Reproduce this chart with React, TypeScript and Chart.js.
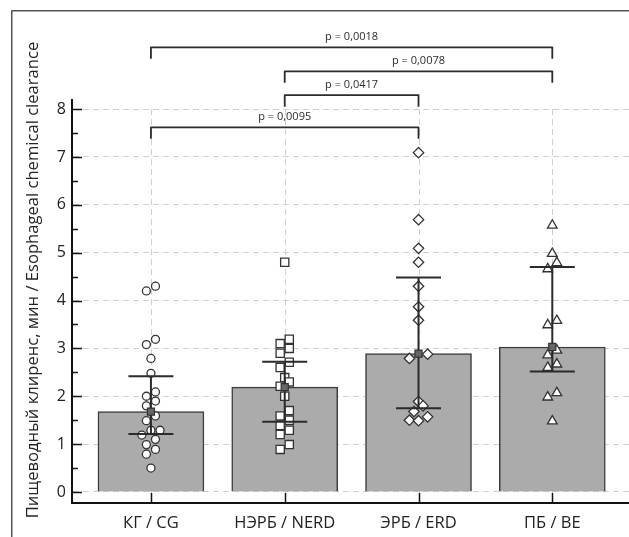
import React, { useEffect, useRef } from 'react';
import { Chart, registerables } from 'chart.js';

Chart.register(...registerables);

// ---------- data ----------
const categories = ['КГ / CG', 'НЭРБ / NERD', 'ЭРБ / ERD', 'ПБ / BE'];
const meanValues = [1.68, 2.19, 2.89, 3.03];
const upperValues = [2.42, 2.72, 4.48, 4.7];
const lowerValues = [1.21, 1.47, 1.75, 2.52];
const yTickValues = [0, 1, 2, 3, 4, 5, 6, 7, 8];
const yAxisTitle = 'Пищеводный клиренс, мин / Esophageal chemical clearance';

const cgPoints = [4.2, 4.3, 3.08, 3.19, 2.79, 2.48, 2.0, 2.09, 1.9, 1.8, 1.59, 1.49, 1.29, 1.29, 1.19, 1.1, 0.99, 0.89, 0.79, 0.5];
const cgSlots = [-1, 1, -1, 1, 0, 0, -1, 1, 1, -1, 1, -1, 0, 2, -2, 1, -1, 1, -1, 0];
const nerdPoints = [4.8, 3.19, 3.1, 3.0, 2.9, 2.71, 2.6, 2.39, 2.3, 2.21, 2.0, 1.7, 1.59, 1.5, 1.39, 1.29, 1.2, 0.99, 0.89];
const nerdSlots = [0, 1, -1, 1, -1, 1, -1, 0, 1, -1, 0, 1, -1, 1, -1, 1, -1, 1, -1];
const erdPoints = [7.09, 5.69, 5.09, 4.8, 4.3, 3.87, 3.59, 2.79, 2.88, 1.89, 1.8, 1.68, 1.5, 1.49, 1.57];
const erdSlots = [0, 0, 0, 0, 0, 0, 0, -2, 2, 0, 1, -1, -2, 0, 2];
const bePoints = [5.57, 4.98, 4.79, 4.66, 3.49, 3.58, 2.96, 2.86, 2.67, 2.6, 1.98, 2.07, 1.48];
const beSlots = [0, 0, 1, -1, -1, 1, 1, -1, 1, -1, -1, 1, 0];

const comparisonFrom = [1, 2, 2, 1];
const comparisonTo = [3, 3, 4, 4];
const comparisonLabels = ['p = 0,0095', 'p = 0,0417', 'p = 0,0078', 'p = 0,0018'];

// ---------- layout / style constants ----------
const JITTER = 0.034;
const BRACKET_LEVELS = [7.62, 8.29, 8.79, 9.29];
const BRACKET_DROP = 0.24;
const FONT = '"Open Sans", "DejaVu Sans", sans-serif';
const INK = '#2b2b2b';
const CANVAS_W = 637;

const groups = [
  { pts: cgPoints, slots: cgSlots, style: 'circle', radius: 4 },
  { pts: nerdPoints, slots: nerdSlots, style: 'rect', radius: 5.8 },
  { pts: erdPoints, slots: erdSlots, style: 'rectRot', radius: 5.2 },
  { pts: bePoints, slots: beSlots, style: 'triangle', radius: 5.6 },
];

const overlayPlugin = {
  id: 'overlay',
  beforeDatasetsDraw(chart: any) {
    const { ctx, chartArea } = chart;
    const x = chart.scales.x;
    const y = chart.scales.y;
    ctx.save();
    ctx.strokeStyle = '#cfcfcf';
    ctx.lineWidth = 1;
    ctx.setLineDash([6, 4]);
    categories.forEach((_, i) => {
      const px = Math.round(x.getPixelForValue(i + 1)) + 0.5;
      ctx.beginPath();
      ctx.moveTo(px, y.getPixelForValue(8));
      ctx.lineTo(px, chartArea.bottom);
      ctx.stroke();
    });
    ctx.restore();
  },
  beforeDatasetDraw(chart: any, args: any) {
    if (args.index !== chart.data.datasets.length - 1) return;
    const { ctx } = chart;
    const x = chart.scales.x;
    const y = chart.scales.y;
    ctx.save();
    ctx.strokeStyle = INK;
    ctx.lineWidth = 2;
    categories.forEach((_, i) => {
      const px = x.getPixelForValue(i + 1);
      const yu = y.getPixelForValue(upperValues[i]);
      const yl = y.getPixelForValue(lowerValues[i]);
      ctx.beginPath();
      ctx.moveTo(px, yu);
      ctx.lineTo(px, yl);
      ctx.moveTo(px - 22.5, yu);
      ctx.lineTo(px + 22.5, yu);
      ctx.moveTo(px - 22.5, yl);
      ctx.lineTo(px + 22.5, yl);
      ctx.stroke();
    });
    ctx.restore();
  },
  afterDraw(chart: any) {
    const { ctx, chartArea } = chart;
    const x = chart.scales.x;
    const y = chart.scales.y;
    ctx.save();
    // inward ticks
    ctx.strokeStyle = '#111';
    ctx.lineWidth = 1.5;
    for (let v = 0; v <= 8; v += 0.5) {
      const py = Math.round(y.getPixelForValue(v)) + 0.5;
      const len = Number.isInteger(v) ? 10 : 6;
      ctx.beginPath();
      ctx.moveTo(chartArea.left, py);
      ctx.lineTo(chartArea.left + len, py);
      ctx.stroke();
    }
    categories.forEach((_, i) => {
      const px = Math.round(x.getPixelForValue(i + 1)) + 0.5;
      ctx.beginPath();
      ctx.moveTo(px, chartArea.bottom);
      ctx.lineTo(px, chartArea.bottom - 10);
      ctx.stroke();
    });
    // brackets
    ctx.strokeStyle = INK;
    ctx.lineWidth = 1.8;
    ctx.lineJoin = 'round';
    ctx.fillStyle = INK;
    ctx.font = '11px ' + FONT;
    ctx.textAlign = 'center';
    ctx.textBaseline = 'middle';
    comparisonLabels.forEach((lab, i) => {
      const xa = x.getPixelForValue(comparisonFrom[i]);
      const xb = x.getPixelForValue(comparisonTo[i]);
      const yTop = y.getPixelForValue(BRACKET_LEVELS[i]);
      const yEnd = y.getPixelForValue(BRACKET_LEVELS[i] - BRACKET_DROP);
      ctx.beginPath();
      ctx.moveTo(xa, yEnd);
      ctx.lineTo(xa, yTop);
      ctx.lineTo(xb, yTop);
      ctx.lineTo(xb, yEnd);
      ctx.stroke();
      ctx.fillText(lab, (xa + xb) / 2, yTop - 10);
    });
    // y-axis title
    ctx.save();
    ctx.translate(33, 280);
    ctx.rotate(-Math.PI / 2);
    ctx.font = '16.6px ' + FONT;
    ctx.fillStyle = '#222';
    ctx.textAlign = 'center';
    ctx.textBaseline = 'middle';
    ctx.fillText(yAxisTitle, 0, 0);
    ctx.restore();
    // frame
    ctx.strokeStyle = '#555';
    ctx.lineWidth = 1.5;
    ctx.beginPath();
    ctx.moveTo(11.75, 537);
    ctx.lineTo(11.75, 10.75);
    ctx.lineTo(CANVAS_W, 10.75);
    ctx.stroke();
    ctx.restore();
  },
};

export default function App() {
  const ref = useRef<HTMLCanvasElement>(null);
  useEffect(() => {
    const canvas = ref.current!;
    const datasets: any[] = [
      {
        type: 'bar',
        data: meanValues.map((v, i) => ({ x: i + 1, y: v })),
        backgroundColor: '#ababab',
        borderColor: '#3c3c3c',
        borderWidth: 1.5,
        barThickness: 106,
        order: 10,
      },
      ...groups.map((g, gi) => ({
        type: 'scatter',
        data: g.pts.map((v, i) => ({ x: gi + 1 + g.slots[i] * JITTER, y: v })),
        pointStyle: g.style,
        pointRadius: g.radius,
        pointBackgroundColor: '#ffffff',
        pointBorderColor: '#333333',
        pointBorderWidth: 1.3,
        showLine: false,
        order: 5,
      })),
      {
        type: 'scatter',
        data: meanValues.map((v, i) => ({ x: i + 1, y: v })),
        pointStyle: 'rect',
        pointRadius: 5,
        pointBackgroundColor: '#666666',
        pointBorderColor: '#333333',
        pointBorderWidth: 1.2,
        showLine: false,
        order: 0,
      },
    ];
    const chart = new Chart(canvas, {
      type: 'scatter',
      data: { datasets },
      plugins: [overlayPlugin],
      options: {
        responsive: false,
        animation: false,
        devicePixelRatio: 1,
        layout: { padding: { top: 100, left: 0, right: 0, bottom: 0 } },
        plugins: { legend: { display: false }, tooltip: { enabled: false } },
        scales: {
          x: {
            type: 'linear',
            min: 0.41,
            max: 4.58,
            offset: false,
            afterFit: (s: any) => {
              s.height = 34;
              s.paddingLeft = 0;
              s.paddingRight = 0;
            },
            afterBuildTicks: (s: any) => { s.ticks = categories.map((_, i) => ({ value: i + 1 })); },
            grid: { display: false, drawTicks: false },
            border: { display: true, color: '#111', width: 2 },
            ticks: {
              padding: 10,
              color: '#222',
              font: { family: FONT, size: 16.5 },
              maxRotation: 0,
              autoSkip: false,
              callback: (v: any) => categories[Math.round(Number(v)) - 1] ?? '',
            },
          },
          y: {
            type: 'linear',
            min: -0.23,
            max: 8.19,
            afterFit: (s: any) => {
              s.width = 72;
              s.paddingTop = 0;
              s.paddingBottom = 0;
            },
            afterBuildTicks: (s: any) => { s.ticks = yTickValues.map((v) => ({ value: v })); },
            grid: { color: '#cfcfcf', lineWidth: 1, drawTicks: false },
            border: { display: true, color: '#111', width: 2, dash: [6, 4] },
            ticks: {
              padding: 6,
              color: '#222',
              font: { family: FONT, size: 16 },
              callback: (v: any) => String(v),
            },
          },
        },
      } as any,
    });
    return () => chart.destroy();
  }, []);
  return (
    <div style={{ position: 'absolute', left: 0, top: 0, width: 629, height: 537, overflow: 'hidden', background: '#fff' }}>
      <canvas ref={ref} width={CANVAS_W} height={537} style={{ display: 'block', width: CANVAS_W, height: 537 }} />
    </div>
  );
}
